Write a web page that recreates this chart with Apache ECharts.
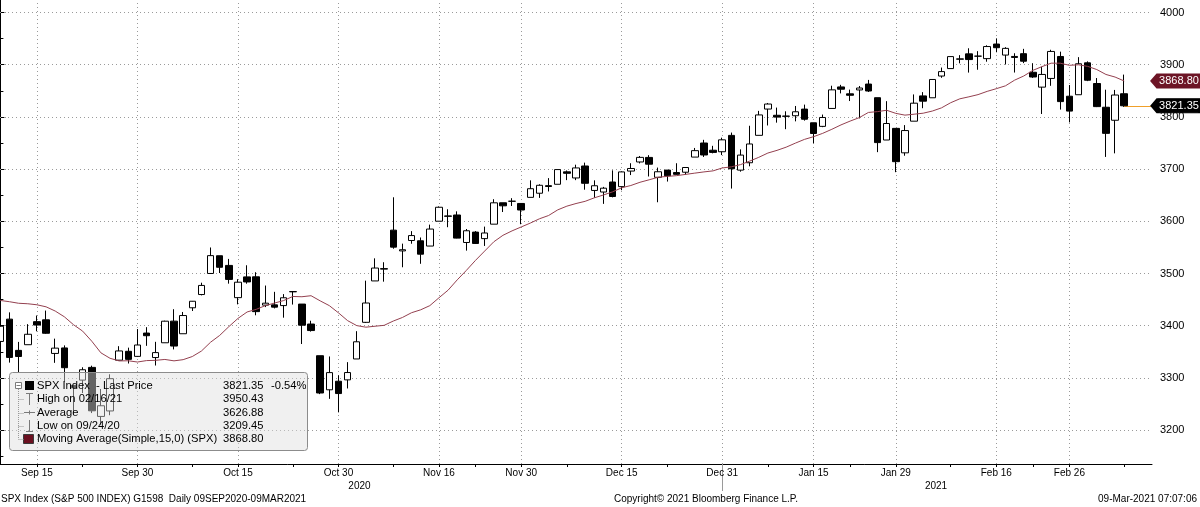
<!DOCTYPE html>
<html><head><meta charset="utf-8">
<script src="https://cdn.jsdelivr.net/npm/echarts@6/dist/echarts.min.js"></script>
<style>html,body{margin:0;padding:0;background:#fff}#c{width:1200px;height:507px}</style>
</head><body><div id="c"></div>
<script>
const dates = [
'2020-09-09','2020-09-10','2020-09-11','2020-09-14','2020-09-15','2020-09-16','2020-09-17','2020-09-18','2020-09-21','2020-09-22',
'2020-09-23','2020-09-24','2020-09-25','2020-09-28','2020-09-29','2020-09-30','2020-10-01','2020-10-02','2020-10-05','2020-10-06',
'2020-10-07','2020-10-08','2020-10-09','2020-10-12','2020-10-13','2020-10-14','2020-10-15','2020-10-16','2020-10-19','2020-10-20',
'2020-10-21','2020-10-22','2020-10-23','2020-10-26','2020-10-27','2020-10-28','2020-10-29','2020-10-30','2020-11-02','2020-11-03',
'2020-11-04','2020-11-05','2020-11-06','2020-11-09','2020-11-10','2020-11-11','2020-11-12','2020-11-13','2020-11-16','2020-11-17',
'2020-11-18','2020-11-19','2020-11-20','2020-11-23','2020-11-24','2020-11-25','2020-11-27','2020-11-30','2020-12-01','2020-12-02',
'2020-12-03','2020-12-04','2020-12-07','2020-12-08','2020-12-09','2020-12-10','2020-12-11','2020-12-14','2020-12-15','2020-12-16',
'2020-12-17','2020-12-18','2020-12-21','2020-12-22','2020-12-23','2020-12-24','2020-12-28','2020-12-29','2020-12-30','2020-12-31',
'2021-01-04','2021-01-05','2021-01-06','2021-01-07','2021-01-08','2021-01-11','2021-01-12','2021-01-13','2021-01-14','2021-01-15',
'2021-01-19','2021-01-20','2021-01-21','2021-01-22','2021-01-25','2021-01-26','2021-01-27','2021-01-28','2021-01-29','2021-02-01',
'2021-02-02','2021-02-03','2021-02-04','2021-02-05','2021-02-08','2021-02-09','2021-02-10','2021-02-11','2021-02-12','2021-02-16',
'2021-02-17','2021-02-18','2021-02-19','2021-02-22','2021-02-23','2021-02-24','2021-02-25','2021-02-26','2021-03-01','2021-03-02',
'2021-03-03','2021-03-04','2021-03-05','2021-03-08'];
const opens = [
3369.82,3412.56,3352.70,3363.56,3407.73,3411.23,3346.86,3357.38,3285.57,3295.75,
3320.11,3226.14,3236.66,3333.90,3350.92,3341.21,3385.87,3338.94,3367.27,3408.74,
3384.56,3434.28,3459.67,3500.02,3534.01,3515.47,3453.72,3493.50,3493.66,3439.38,
3439.91,3438.50,3464.90,3441.42,3403.15,3342.48,3277.17,3293.59,3296.20,3336.25,
3406.46,3485.74,3508.34,3583.04,3543.26,3563.22,3562.67,3552.57,3600.16,3610.31,
3612.09,3559.41,3579.31,3566.82,3594.52,3635.50,3638.55,3634.18,3645.87,3653.78,
3668.28,3670.94,3694.73,3683.05,3705.98,3659.13,3656.08,3675.27,3666.41,3696.25,
3713.65,3722.39,3684.28,3698.08,3693.42,3694.03,3723.03,3750.01,3736.19,3733.27,
3764.61,3698.02,3712.20,3764.71,3815.05,3803.14,3801.62,3802.23,3814.98,3788.73,
3781.88,3816.22,3857.46,3844.24,3851.68,3862.96,3836.83,3755.75,3778.05,3731.17,
3791.84,3840.27,3836.66,3878.30,3892.59,3910.49,3920.78,3916.40,3911.65,3939.61,
3918.50,3915.86,3921.16,3885.55,3857.07,3873.71,3915.80,3839.66,3842.51,3903.64,
3863.99,3818.53,3793.58,3844.39];
const highs = [
3424.77,3425.55,3368.95,3402.93,3419.48,3428.92,3375.17,3362.27,3285.57,3320.31,
3323.35,3278.70,3306.88,3360.74,3357.92,3393.56,3397.18,3369.10,3409.57,3431.56,
3426.26,3447.28,3482.34,3549.85,3534.01,3527.94,3489.08,3515.76,3502.42,3476.93,
3464.86,3460.53,3466.46,3441.42,3409.51,3342.48,3341.05,3304.93,3330.14,3389.49,
3486.25,3529.05,3521.58,3645.99,3557.22,3581.16,3569.02,3593.66,3628.51,3623.11,
3619.09,3585.22,3581.23,3589.81,3642.31,3635.50,3644.31,3634.18,3678.45,3670.96,
3682.73,3699.20,3697.41,3708.45,3712.39,3678.49,3665.91,3697.61,3695.29,3711.27,
3725.12,3726.70,3702.90,3698.26,3711.24,3703.82,3740.51,3756.12,3744.63,3760.20,
3769.99,3737.83,3783.04,3811.55,3826.69,3817.86,3810.78,3820.96,3823.60,3788.73,
3804.53,3859.75,3861.45,3852.31,3859.23,3870.90,3836.83,3830.17,3778.05,3784.32,
3843.09,3847.51,3872.42,3894.56,3915.77,3918.35,3931.50,3925.99,3937.23,3950.43,
3933.61,3921.98,3930.41,3902.92,3895.98,3928.65,3925.02,3861.08,3914.50,3906.41,
3874.47,3852.15,3851.69,3881.06];
const lows = [
3366.84,3329.25,3310.47,3363.56,3389.25,3384.45,3328.82,3292.40,3229.10,3270.95,
3232.57,3209.45,3228.44,3332.91,3327.54,3340.47,3361.39,3323.69,3367.27,3354.54,
3384.56,3428.15,3458.07,3499.61,3500.86,3480.55,3440.89,3480.45,3419.93,3435.65,
3433.06,3415.34,3440.45,3364.86,3388.71,3268.89,3259.82,3233.94,3279.74,3336.25,
3405.17,3485.74,3484.34,3547.48,3511.91,3557.00,3518.58,3552.57,3600.16,3588.68,
3567.33,3543.84,3556.85,3552.77,3594.52,3617.76,3629.33,3594.39,3645.87,3644.84,
3657.17,3670.94,3678.88,3678.83,3660.54,3645.18,3633.40,3645.84,3659.62,3688.57,
3710.87,3685.84,3636.48,3676.16,3689.28,3689.32,3723.03,3723.31,3730.21,3726.88,
3662.71,3695.07,3705.34,3764.71,3783.60,3789.02,3776.51,3791.50,3792.86,3749.62,
3780.37,3816.22,3845.05,3830.41,3797.16,3847.78,3732.48,3755.75,3694.12,3725.62,
3791.84,3816.68,3836.66,3874.93,3892.59,3902.64,3884.94,3890.39,3905.78,3923.85,
3900.43,3885.03,3903.07,3874.71,3805.59,3859.60,3814.04,3789.54,3842.51,3868.57,
3818.86,3723.34,3730.19,3819.25];
const closes = [
3398.96,3339.19,3340.97,3383.54,3401.20,3385.49,3357.01,3319.47,3281.06,3315.57,
3236.92,3246.59,3298.46,3351.60,3335.47,3363.00,3380.80,3348.42,3408.60,3360.97,
3419.44,3446.83,3477.14,3534.22,3511.93,3488.67,3483.34,3483.81,3426.92,3443.12,
3435.56,3453.49,3465.39,3400.97,3390.68,3271.03,3310.11,3269.96,3310.24,3369.16,
3443.44,3510.45,3509.44,3550.50,3545.53,3572.66,3537.01,3585.15,3626.91,3609.53,
3567.79,3581.87,3557.54,3577.59,3635.41,3629.65,3638.35,3621.63,3662.45,3669.01,
3666.72,3699.12,3691.96,3702.25,3672.82,3668.10,3663.46,3647.49,3694.62,3701.17,
3722.48,3709.41,3694.92,3687.26,3690.01,3703.06,3735.36,3727.04,3732.04,3756.07,
3700.65,3726.86,3748.14,3803.79,3824.68,3799.61,3801.19,3809.84,3795.54,3768.25,
3798.91,3851.85,3853.07,3841.47,3855.36,3849.62,3750.77,3787.38,3714.24,3773.86,
3826.31,3830.17,3871.74,3886.83,3915.59,3911.23,3909.88,3916.38,3934.83,3932.59,
3931.33,3913.97,3906.71,3876.50,3881.37,3925.43,3829.34,3811.15,3901.82,3870.29,
3819.72,3768.47,3841.94,3821.35];
// closes of the 14 sessions before the first shown day (needed for the 15-day SMA)
const priorCloses = [3374.85,3385.51,3397.16,3431.28,3443.62,3478.73,3484.55,3508.01,3500.31,3526.65,3580.84,3455.06,3426.96,3331.84];
const maPeriod = 15;

const xLabelDates = ['2020-09-15','2020-09-30','2020-10-15','2020-10-30','2020-11-16','2020-11-30','2020-12-15','2020-12-31','2021-01-15','2021-01-29','2021-02-16','2021-02-26'];
const xLabelTexts = ['Sep 15','Sep 30','Oct 15','Oct 30','Nov 16','Nov 30','Dec 15','Dec 31','Jan 15','Jan 29','Feb 16','Feb 26'];
const xMinorTickPos = [9,21,32,43,52,62,73,84,93,104,113,123];
const yearLabels = ['2020','2021'];
const yearLabelPos = [39.3,102.4];
const yearBreakDate = '2020-12-31';
const yTicks = [3200,3300,3400,3500,3600,3700,3800,3900,4000];
const yMinorTicks = [3150,3250,3350,3450,3550,3650,3750,3850,3950];

const legendLabels = ['SPX Index  - Last Price','High on 02/16/21','Average','Low on 09/24/20','Moving Average(Simple,15,0) (SPX)'];
const legendValues = ['3821.35','3950.43','3626.88','3209.45','3868.80'];
const legendChange = '-0.54%';
const footerLeft = 'SPX Index (S&P 500 INDEX) G1598  Daily 09SEP2020-09MAR2021';
const footerMid = 'Copyright\u00A9 2021 Bloomberg Finance L.P.';
const footerRight = '09-Mar-2021 07:07:06';

// ---- derived ----
const X_MIN = -0.044, X_MAX = 126.04, Y_MIN = 3135, Y_MAX = 4024;
const FONT = '"Liberation Sans", Arial, sans-serif';
const candleData = dates.map((d, i) => [i, opens[i], closes[i], lows[i], highs[i]]);
const allCloses = priorCloses.concat(closes);
const maData = closes.map((c, i) => {
  let s = 0;
  for (let k = i; k < i + maPeriod; k++) s += allCloses[k];
  return [i, +(s / maPeriod).toFixed(2)];
});
const xLabelIdx = xLabelDates.map(d => dates.indexOf(d));
const lastIdx = dates.length - 1;
const lastClose = closes[lastIdx];
const lastMA = maData[lastIdx][1];
const yearBreakIdx = dates.indexOf(yearBreakDate);

const MA_COLOR = '#93404f';
const gridStyle = { color: '#9a9a9a', width: 1, type: [1, 3] };
const gridLines = [];
xLabelIdx.forEach(v => gridLines.push({ xAxis: v, lineStyle: gridStyle }));
yTicks.forEach(v => gridLines.push({ yAxis: v, lineStyle: gridStyle }));
gridLines.push([{ coord: [lastIdx, lastClose], lineStyle: { color: '#f0a02a', width: 1, type: 'solid' } }, { coord: [X_MAX, lastClose] }]);

const badgePath = 'path://M0,7L6,0L48,0L48,14L6,14Z';
function badge(val, color) {
  return {
    coord: [X_MAX, val], value: val,
    symbol: badgePath, symbolSize: [48, 14], symbolOffset: [24, 0], symbolKeepAspect: false,
    itemStyle: { color: color, borderColor: color },
    label: { show: true, position: 'inside', offset: [3, 0], color: '#fff', fontSize: 11, fontFamily: FONT, formatter: val.toFixed(2) }
  };
}

// legend box
const LX = 9, LY = 372;
const rowY = [385.7, 399.3, 412.7, 425.7, 439.3];
const grey = '#7a7a7a';
const LFS = 11.2;
const dots = { stroke: '#9a9a9a', lineWidth: 1, lineDash: [1, 1] };
const lg = [
  { type: 'rect', shape: { x: LX + 0.5, y: LY + 0.5, width: 298, height: 78, r: 3 }, style: { fill: 'rgba(222,222,222,0.45)', stroke: '#8c8c8c', lineWidth: 1 } },
  { type: 'rect', shape: { x: 15.5, y: 382.5, width: 6, height: 6 }, style: { fill: '#fff', stroke: grey, lineWidth: 1 } },
  { type: 'line', shape: { x1: 16.5, y1: 385.5, x2: 20.5, y2: 385.5 }, style: { stroke: grey, lineWidth: 1 } },
  { type: 'line', shape: { x1: 18.5, y1: 389, x2: 18.5, y2: rowY[4] }, style: dots },
  { type: 'rect', shape: { x: 25, y: 381, width: 9, height: 9 }, style: { fill: '#000' } },
  { type: 'line', shape: { x1: 26, y1: 393.5, x2: 33, y2: 393.5 }, style: { stroke: grey, lineWidth: 1 } },
  { type: 'line', shape: { x1: 29.5, y1: 393.5, x2: 29.5, y2: 405 }, style: { stroke: grey, lineWidth: 1 } },
  { type: 'line', shape: { x1: 24, y1: 412.5, x2: 35, y2: 412.5 }, style: { stroke: grey, lineWidth: 1 } },
  { type: 'line', shape: { x1: 29.5, y1: 410.5, x2: 29.5, y2: 414.5 }, style: { stroke: grey, lineWidth: 1 } },
  { type: 'line', shape: { x1: 29.5, y1: 420, x2: 29.5, y2: 431.5 }, style: { stroke: grey, lineWidth: 1 } },
  { type: 'line', shape: { x1: 26, y1: 431.5, x2: 33, y2: 431.5 }, style: { stroke: grey, lineWidth: 1 } },
  { type: 'rect', shape: { x: 23.5, y: 434.5, width: 10, height: 9 }, style: { fill: '#6b1020', stroke: '#3a3a3a', lineWidth: 1 } }
];
[1, 2, 3, 4].forEach(r => lg.push({ type: 'line', shape: { x1: 18.5, y1: Math.round(rowY[r]) + 0.5, x2: 24, y2: Math.round(rowY[r]) + 0.5 }, style: dots }));
legendLabels.forEach((t, r) => lg.push({ type: 'text', x: 37, y: rowY[r], style: { text: t, fill: '#000', fontSize: LFS, fontFamily: FONT, verticalAlign: 'middle', align: 'left' } }));
legendValues.forEach((t, r) => lg.push({ type: 'text', x: 223, y: rowY[r], style: { text: t, fill: '#000', fontSize: LFS, fontFamily: FONT, verticalAlign: 'middle', align: 'left' } }));
lg.push({ type: 'text', x: 271, y: rowY[0], style: { text: legendChange, fill: '#000', fontSize: LFS, fontFamily: FONT, verticalAlign: 'middle', align: 'left' } });
lg.forEach(e => { e.z = 100; e.silent = true; });

const footer = [
  { type: 'text', x: 1, y: 499, style: { text: footerLeft, fill: '#000', fontSize: 10, fontFamily: FONT, verticalAlign: 'middle', align: 'left' } },
  { type: 'text', x: 706, y: 499, style: { text: footerMid, fill: '#000', fontSize: 10, fontFamily: FONT, verticalAlign: 'middle', align: 'center' } },
  { type: 'text', x: 1197, y: 499, style: { text: footerRight, fill: '#000', fontSize: 10, fontFamily: FONT, verticalAlign: 'middle', align: 'right' } }
];

const chart = echarts.init(document.getElementById('c'), null, { renderer: 'canvas' });
chart.setOption({
  animation: false,
  backgroundColor: '#fff',
  grid: { left: 0, right: 48, top: 0, bottom: 43, containLabel: false },
  xAxis: [
    {
      type: 'value', min: X_MIN, max: X_MAX, position: 'bottom',
      axisLine: { show: true, onZero: false, lineStyle: { color: '#000', width: 1 } },
      axisTick: { show: true, length: 3, customValues: xLabelIdx.concat(xMinorTickPos), lineStyle: { color: '#000' } },
      axisLabel: { show: true, customValues: xLabelIdx, margin: 4, color: '#000', fontSize: 10, fontFamily: FONT,
        formatter: v => { const k = xLabelIdx.indexOf(Math.round(v)); return k >= 0 ? xLabelTexts[k] : ''; } },
      splitLine: { show: false }
    },
    {
      type: 'value', min: X_MIN, max: X_MAX, position: 'bottom',
      axisLine: { show: false, onZero: false },
      axisTick: { show: true, length: 27, customValues: [yearBreakIdx], lineStyle: { color: '#9a9a9a' } },
      axisLabel: { show: true, customValues: yearLabelPos, margin: 17, color: '#000', fontSize: 10, fontFamily: FONT,
        formatter: v => { const k = yearLabelPos.indexOf(v); return k >= 0 ? yearLabels[k] : ''; } },
      splitLine: { show: false }
    }
  ],
  yAxis: [
    {
      type: 'value', min: Y_MIN, max: Y_MAX, position: 'right',
      axisLine: { show: true, lineStyle: { color: '#000', width: 1 } },
      axisTick: { show: true, length: 5, customValues: yTicks, lineStyle: { color: '#000' } },
      axisLabel: { show: true, customValues: yTicks, margin: 8, color: '#000', fontSize: 11, fontFamily: FONT, formatter: v => String(Math.round(v)) },
      splitLine: { show: false }
    },
    {
      type: 'value', min: Y_MIN, max: Y_MAX, position: 'right',
      axisLine: { show: false },
      axisTick: { show: true, length: 3, customValues: yMinorTicks, lineStyle: { color: '#000' } },
      axisLabel: { show: false },
      splitLine: { show: false }
    }
  ],
  series: [
    {
      name: 'SPX', type: 'candlestick', xAxisIndex: 0, yAxisIndex: 0,
      dimensions: ['idx', 'open', 'close', 'lowest', 'highest'],
      encode: { x: 'idx', y: ['open', 'close', 'lowest', 'highest'] },
      data: candleData, barWidth: 7, z: 2,
      itemStyle: { color: '#fff', color0: '#000', borderColor: '#000', borderColor0: '#000', borderWidth: 1 },
      emphasis: { disabled: true },
      markLine: { silent: true, symbol: ['none', 'none'], z: 1, animation: false, label: { show: false }, emphasis: { disabled: true }, data: gridLines }
    },
    {
      name: 'MA', type: 'line', xAxisIndex: 0, yAxisIndex: 0, data: maData, z: 3,
      showSymbol: false, symbol: 'none', smooth: false,
      lineStyle: { color: MA_COLOR, width: 1 },
      emphasis: { disabled: true },
      markPoint: { silent: true, animation: false, z: 10, data: [badge(lastMA, '#6d1526'), badge(lastClose, '#000')] }
    }
  ],
  graphic: lg.concat(footer)
});
</script></body></html>
